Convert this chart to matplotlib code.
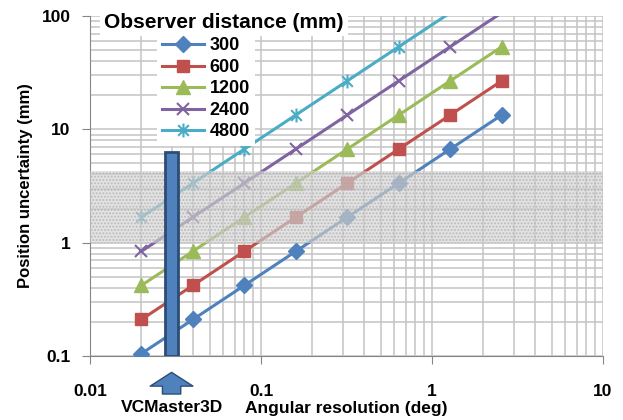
import numpy as np
import matplotlib.pyplot as plt
from matplotlib.path import Path

plt.rcParams['font.family'] = ['Liberation Sans', 'DejaVu Sans']
plt.rcParams['font.weight'] = 'bold'

# angular resolution (deg) and position uncertainty (mm) per observer distance
resolution = [0.02, 0.04, 0.08, 0.16, 0.32, 0.64, 1.28, 2.56]
distances = ['300', '600', '1200', '2400', '4800']
unc_300 = [0.105, 0.21, 0.42, 0.84, 1.68, 3.35, 6.7, 13.4]
unc_600 = [0.21, 0.42, 0.84, 1.68, 3.35, 6.7, 13.4, 26.8]
unc_1200 = [0.42, 0.84, 1.68, 3.35, 6.7, 13.4, 26.8, 53.6]
unc_2400 = [0.84, 1.68, 3.35, 6.7, 13.4, 26.8, 53.6, 107]
unc_4800 = [1.68, 3.35, 6.7, 13.4, 26.8, 53.6, 107, 214]

# VCMaster3D resolution marker and the shaded band
vcm_res = 0.03
vcm_top = 6.3
band_lo, band_hi = 1.0, 4.3

star = Path([(-1, -1), (1, 1), (-1, 1), (1, -1), (0, -1.3), (0, 1.3)],
            [Path.MOVETO, Path.LINETO, Path.MOVETO, Path.LINETO,
             Path.MOVETO, Path.LINETO])

colors = ['#4F81BD', '#C0504D', '#9BBB59', '#8064A2', '#4BACC6']
markers = ['D', 's', '^', 'x', star]
sizes = [8, 9, 10, 9, 10]
series = [unc_300, unc_600, unc_1200, unc_2400, unc_4800]

fig = plt.figure(figsize=(6.23, 4.2), dpi=100)
ax = fig.add_axes([90/623, 1 - 356/420, 513/623, 340/420])
ax.set_xscale('log')
ax.set_yscale('log')
ax.set_xlim(0.01, 10)
ax.set_ylim(0.1, 100)

for vals, lab, c, m, s in zip(series, distances, colors, markers, sizes):
    show = [v <= 100 for v in vals]
    filled = m in ('D', 's', '^')
    ax.plot(resolution, vals, color=c, lw=2.2, marker=m, ms=s,
            mfc=c if filled else 'none', mec=c, mew=1.5 if not filled else 1,
            markevery=show, label=lab, zorder=3)

ax.axhspan(band_lo, band_hi, facecolor='#D4D4D4', alpha=0.65,
           hatch='.....', edgecolor='#A8A8A8', lw=0, zorder=4)

ax.bar([vcm_res], [vcm_top - 0.1], bottom=0.1, width=0.0052,
       color='#4F81BD', edgecolor='#2C4D75', lw=2, zorder=6)

ax.grid(True, which='both', color='#C4C4C4', lw=1.1)
ax.set_axisbelow(True)
for side in ['top', 'right']:
    ax.spines[side].set_visible(False)
for side in ['left', 'bottom']:
    ax.spines[side].set_color('#868686')
ax.tick_params(which='major', length=6, color='#868686', labelsize=12.5)
ax.tick_params(which='minor', length=0)
ax.tick_params(axis='y', pad=8)
ax.tick_params(axis='x', pad=14)
ax.set_xticks([0.01, 0.1, 1, 10])
ax.set_xticklabels(['0.01', '0.1', '1', '10'])
ax.set_yticks([0.1, 1, 10, 100])
ax.set_yticklabels(['0.1', '1', '10', '100'])

ax.set_ylabel('Position uncertainty (mm)', fontsize=12, fontweight='bold',
              labelpad=6)
fig.text(346/623, 1 - 408/420, 'Angular resolution (deg)', fontsize=12.5,
         ha='center', va='center')
fig.text(172/623, 1 - 408/420, 'VCMaster3D', fontsize=12.5,
         ha='center', va='center')

ax.annotate('', xy=(vcm_res, -0.04), xycoords=('data', 'axes fraction'),
            xytext=(vcm_res, -0.12), textcoords=('data', 'axes fraction'),
            arrowprops=dict(arrowstyle='simple,head_length=0.45,head_width=1.4,tail_width=0.6',
                            fc='#4F81BD', ec='#2C4D75', lw=1, mutation_scale=22),
            annotation_clip=False)

leg = ax.legend(loc='upper left', bbox_to_anchor=(148/623, 1 - 23/420),
                bbox_transform=fig.transFigure, fontsize=13, frameon=True,
                fancybox=False, edgecolor='none', framealpha=1,
                handlelength=2.3, labelspacing=0.25, borderpad=0.3,
                handletextpad=0.3)
leg.set_zorder(7)

fig.text(104/623, 1 - 22/420, 'Observer distance (mm)', fontsize=15,
         ha='left', va='center', zorder=8,
         bbox=dict(facecolor='white', edgecolor='none', pad=3))

fig.savefig('out.png', dpi=100)
